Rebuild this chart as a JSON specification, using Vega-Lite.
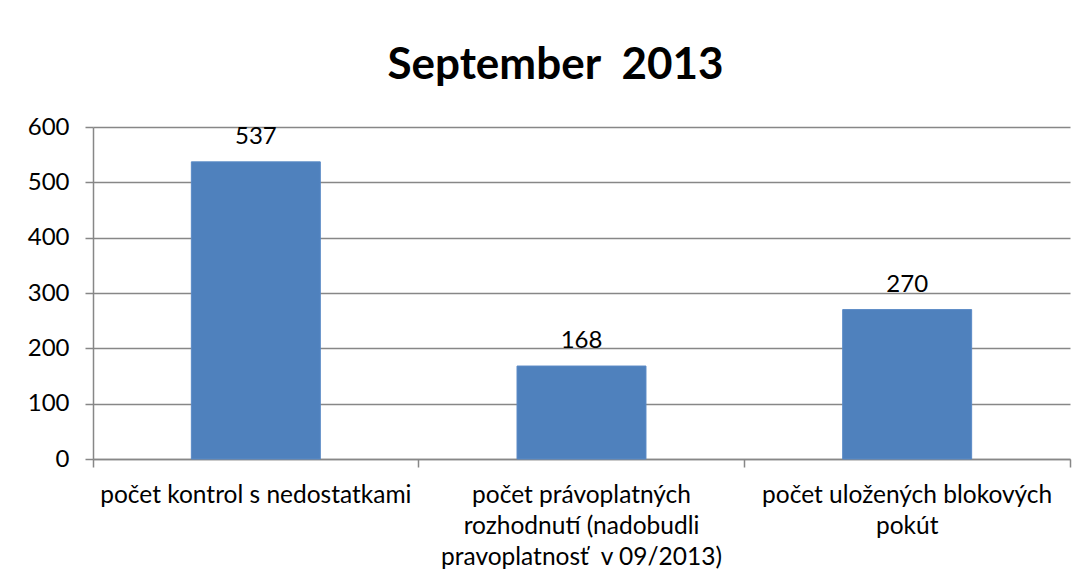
{
  "$schema": "https://vega.github.io/schema/vega-lite/v6.json",
  "autosize": {"type": "none"},
  "width": 977,
  "height": 332,
  "padding": {"left": 93, "top": 127, "right": 18, "bottom": 125},
  "background": "white",
  "title": {
    "text": "September\u00a0 2013",
    "font": "Lato",
    "fontSize": 44,
    "fontWeight": "bold",
    "color": "#000000",
    "anchor": "middle",
    "dx": -26,
    "offset": 27
  },
  "data": {
    "values": [
      {"kategoria": "počet kontrol s nedostatkami", "pocet": 537},
      {"kategoria": "počet právoplatných|rozhodnutí (nadobudli|pravoplatnosť\u00a0 v 09/2013)", "pocet": 168},
      {"kategoria": "počet uložených blokových|pokút", "pocet": 270}
    ]
  },
  "encoding": {
    "x": {
      "field": "kategoria",
      "type": "nominal",
      "sort": null,
      "scale": {"paddingInner": 0, "paddingOuter": 0},
      "axis": {
        "title": null,
        "labelAngle": 0,
        "labelExpr": "split(datum.label, '|')",
        "labelFont": "Lato",
        "labelFontSize": 24.5,
        "labelColor": "#000000",
        "labelLineHeight": 31,
        "labelPadding": 16,
        "labelLimit": 400,
        "bandPosition": 1,
        "tickExtra": true,
        "tickSize": 8,
        "tickColor": "#878787",
        "tickWidth": 1.5,
        "domainColor": "#878787",
        "domainWidth": 1.5,
        "grid": false
      }
    },
    "y": {
      "field": "pocet",
      "type": "quantitative",
      "scale": {"domain": [0, 600], "nice": false},
      "axis": {
        "title": null,
        "values": [0, 100, 200, 300, 400, 500, 600],
        "labelFont": "Lato",
        "labelFontSize": 24,
        "labelColor": "#000000",
        "labelPadding": 16,
        "tickSize": 8,
        "tickColor": "#878787",
        "tickWidth": 1.5,
        "domainColor": "#878787",
        "domainWidth": 1.5,
        "grid": true,
        "gridColor": "#878787",
        "gridWidth": 1.5
      }
    }
  },
  "layer": [
    {
      "mark": {"type": "bar", "color": "#4F81BD", "width": {"band": 0.396}, "stroke": "#5A8AC6", "strokeWidth": 1}
    },
    {
      "mark": {"type": "text", "font": "Lato", "fontSize": 24, "color": "#000000", "baseline": "alphabetic", "dy": -18},
      "encoding": {"text": {"field": "pocet", "type": "quantitative"}}
    }
  ],
  "config": {"view": {"stroke": null}}
}
